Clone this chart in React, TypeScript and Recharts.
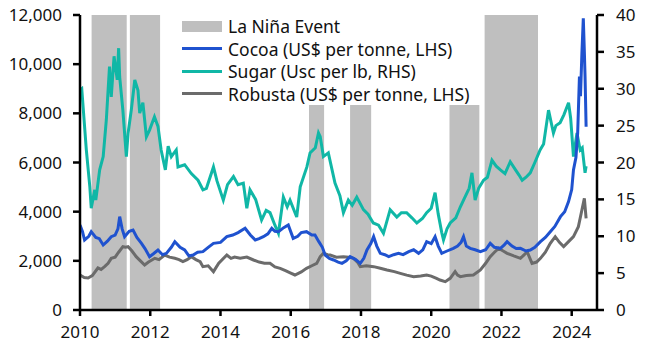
import React from "react";
import {
  LineChart,
  Line,
  XAxis,
  YAxis,
  ReferenceArea,
} from "recharts";

// La Niña episodes (decimal years)
const ninaStart = [2010.33, 2011.42, 2016.52, 2017.69, 2020.52, 2021.52];
const ninaEnd = [2011.33, 2012.28, 2016.95, 2018.29, 2021.37, 2023.04];

const yearTicks = [2010, 2012, 2014, 2016, 2018, 2020, 2022, 2024];
const leftTicks = [0, 2000, 4000, 6000, 8000, 10000, 12000];
const rightTicks = [0, 5, 10, 15, 20, 25, 30, 35, 40];

// Cocoa, US$ per tonne (LHS)
const cocoaT = [
  2010.0, 2010.07, 2010.13, 2010.25, 2010.32, 2010.45, 2010.55, 2010.66, 2010.78, 2010.89,
  2011.0, 2011.08, 2011.13, 2011.2, 2011.27, 2011.4, 2011.51, 2011.62, 2011.75, 2011.85,
  2011.98, 2012.1, 2012.22, 2012.35, 2012.46, 2012.6, 2012.7, 2012.85, 2012.98, 2013.1,
  2013.22, 2013.35, 2013.5, 2013.65, 2013.8, 2014.0, 2014.18, 2014.35, 2014.5, 2014.7,
  2014.85, 2014.99, 2015.1, 2015.22, 2015.35, 2015.46, 2015.55, 2015.65, 2015.8, 2015.93,
  2016.07, 2016.2, 2016.3, 2016.45, 2016.6, 2016.69, 2016.8, 2016.9, 2016.98, 2017.1,
  2017.22, 2017.35, 2017.46, 2017.58, 2017.69, 2017.85, 2017.98, 2018.08, 2018.17, 2018.28,
  2018.36, 2018.45, 2018.55, 2018.68, 2018.79, 2018.93, 2019.07, 2019.2, 2019.36, 2019.5,
  2019.64, 2019.76, 2019.87, 2020.0, 2020.11, 2020.2, 2020.3, 2020.45, 2020.63, 2020.75,
  2020.85, 2020.92, 2021.0, 2021.11, 2021.25, 2021.4, 2021.55, 2021.68, 2021.8, 2021.97,
  2022.08, 2022.16, 2022.3, 2022.42, 2022.54, 2022.7, 2022.82, 2022.95, 2023.11, 2023.25,
  2023.39, 2023.52, 2023.68, 2023.8, 2023.91, 2024.0, 2024.05, 2024.12, 2024.17, 2024.22,
  2024.25, 2024.29, 2024.33, 2024.36, 2024.38, 2024.41,
];
const cocoa = [
  3458, 3200, 2848, 3000, 3186, 2950, 2900, 2644, 2800, 2983,
  3050, 3300, 3797, 3300, 2983, 3200, 3254, 2950, 2712, 2500,
  2170, 2300, 2441, 2250, 2305, 2550, 2780, 2550, 2441, 2200,
  2237, 2350, 2373, 2550, 2712, 2750, 2983, 3050, 3150, 3322,
  3050, 2848, 2900, 2983, 3100, 3322, 3200, 3186, 3350, 3458,
  2915, 3000, 3150, 3186, 3050, 3051, 2780, 2550, 2237, 2100,
  2034, 1950, 1898, 2000, 2170, 2050, 1898, 2100, 2441, 2700,
  2983, 2600, 2305, 2250, 2170, 2250, 2305, 2250, 2373, 2450,
  2305, 2450, 2780, 2700, 2983, 2600, 2305, 2400, 2508, 2600,
  2750, 2983, 2600, 2508, 2450, 2373, 2450, 2712, 2550, 2508,
  2650, 2780, 2600, 2500, 2508, 2400, 2441, 2550, 2780, 2950,
  3186, 3400, 3797, 4000, 4407, 4900, 5696, 6200, 7200, 9492,
  8700, 10442, 11866, 10500, 9492, 7458,
];

// Sugar, US cents per lb (RHS)
const sugarT = [
  2010.0, 2010.05, 2010.18, 2010.28, 2010.32, 2010.42, 2010.45, 2010.56, 2010.66, 2010.75,
  2010.84, 2010.89, 2010.97, 2011.06, 2011.1, 2011.13, 2011.22, 2011.32, 2011.37, 2011.46,
  2011.56, 2011.65, 2011.7, 2011.79, 2011.89, 2011.98, 2012.12, 2012.22, 2012.31, 2012.43,
  2012.51, 2012.6, 2012.74, 2012.79, 2012.98, 2013.17, 2013.36, 2013.5, 2013.6, 2013.8,
  2013.9, 2014.08, 2014.2, 2014.37, 2014.5, 2014.65, 2014.75, 2014.84, 2015.0, 2015.17,
  2015.3, 2015.41, 2015.55, 2015.65, 2015.79, 2015.9, 2015.98, 2016.17, 2016.27, 2016.46,
  2016.55, 2016.7, 2016.79, 2016.84, 2016.93, 2017.07, 2017.26, 2017.4, 2017.5, 2017.64,
  2017.75, 2017.88, 2018.07, 2018.2, 2018.35, 2018.5, 2018.64, 2018.83, 2019.02, 2019.15,
  2019.3, 2019.45, 2019.59, 2019.75, 2019.87, 2020.0, 2020.11, 2020.2, 2020.3, 2020.35,
  2020.45, 2020.54, 2020.7, 2020.83, 2020.95, 2021.08, 2021.16, 2021.25, 2021.35, 2021.49,
  2021.6, 2021.73, 2021.85, 2021.97, 2022.1, 2022.25, 2022.4, 2022.5, 2022.59, 2022.7,
  2022.82, 2022.95, 2023.1, 2023.2, 2023.34, 2023.48, 2023.55, 2023.67, 2023.78, 2023.91,
  2023.97, 2024.05, 2024.15, 2024.24, 2024.3, 2024.38, 2024.41,
];
const sugar = [
  29.8, 30.0, 21.7, 16.7, 13.8, 16.3, 14.9, 19.0, 20.8, 25.8,
  33.0, 28.9, 34.4, 31.2, 35.5, 31.6, 27.1, 20.8, 24.0, 27.1,
  31.2, 29.8, 26.7, 28.1, 23.5, 24.4, 26.2, 24.9, 21.7, 19.0,
  22.2, 20.8, 21.7, 19.4, 19.7, 18.5, 17.6, 16.3, 16.5, 19.4,
  17.5, 14.9, 17.0, 18.1, 17.0, 17.2, 13.8, 16.3, 15.0, 12.2,
  13.5, 13.2, 11.5, 10.4, 15.3, 14.0, 14.9, 12.6, 16.7, 19.4,
  21.3, 22.0, 24.0, 23.5, 20.8, 21.3, 17.2, 15.5, 13.2, 14.9,
  14.2, 15.3, 13.6, 13.0, 11.8, 11.5, 10.4, 13.6, 12.6, 13.2,
  13.2, 12.5, 11.8, 12.4, 13.2, 13.8, 15.9, 13.0, 10.5, 9.5,
  11.0, 11.8, 12.5, 14.0, 15.2, 16.5, 18.6, 14.9, 16.5, 17.6,
  18.0, 20.3, 19.5, 19.0, 18.5, 20.1, 19.0, 18.3, 17.6, 18.0,
  18.6, 20.0, 21.7, 22.5, 27.1, 24.0, 25.0, 25.4, 26.5, 28.1,
  26.0, 20.8, 24.0, 21.7, 22.0, 18.6, 19.5,
];

// Robusta, US$ per tonne (LHS)
const robustaT = [
  2010.0, 2010.12, 2010.23, 2010.35, 2010.51, 2010.6, 2010.7, 2010.8, 2010.89, 2011.0,
  2011.1, 2011.22, 2011.3, 2011.37, 2011.48, 2011.6, 2011.72, 2011.84, 2011.95, 2012.13,
  2012.25, 2012.41, 2012.55, 2012.7, 2012.82, 2012.93, 2013.05, 2013.17, 2013.3, 2013.42,
  2013.5, 2013.65, 2013.8, 2013.95, 2014.18, 2014.3, 2014.4, 2014.56, 2014.75, 2014.94,
  2015.1, 2015.25, 2015.41, 2015.55, 2015.7, 2015.85, 2016.0, 2016.12, 2016.3, 2016.45,
  2016.6, 2016.74, 2016.84, 2016.93, 2017.05, 2017.12, 2017.3, 2017.5, 2017.65, 2017.79,
  2017.9, 2017.98, 2018.15, 2018.36, 2018.55, 2018.74, 2018.95, 2019.12, 2019.3, 2019.5,
  2019.7, 2019.87, 2020.0, 2020.15, 2020.25, 2020.4, 2020.54, 2020.68, 2020.75, 2020.83,
  2021.0, 2021.2, 2021.4, 2021.55, 2021.68, 2021.8, 2021.92, 2022.05, 2022.16, 2022.35,
  2022.54, 2022.65, 2022.73, 2022.87, 2023.0, 2023.11, 2023.25, 2023.39, 2023.53, 2023.65,
  2023.77, 2023.91, 2024.05, 2024.19, 2024.29, 2024.36, 2024.41,
];
const robusta = [
  1424, 1320, 1302, 1400, 1709, 1650, 1763, 1900, 2102, 2150,
  2350, 2576, 2550, 2576, 2400, 2170, 2000, 1831, 1950, 2102,
  2050, 2237, 2150, 2102, 2050, 1966, 2050, 2170, 2050, 1966,
  1763, 1800, 1560, 1900, 2237, 2100, 2150, 2102, 2150, 2034,
  1950, 1900, 1898, 1750, 1695, 1600, 1500, 1424, 1550, 1695,
  1800, 1898, 2170, 2305, 2250, 2237, 2150, 2170, 2150, 2102,
  1950, 1763, 1800, 1763, 1700, 1627, 1560, 1492, 1420, 1356,
  1380, 1424, 1380, 1288, 1220, 1153, 1288, 1560, 1420, 1356,
  1400, 1424, 1627, 1900, 2170, 2350, 2508, 2400, 2305, 2200,
  2102, 2250, 2373, 1898, 1950, 2102, 2350, 2712, 2983, 2750,
  2576, 2780, 2983, 3390, 4068, 4543, 3729,
];

const zip = (ts: number[], vs: number[]) => ts.map((t, i) => ({ t, v: vs[i] }));

const COCOA = "#1f52cf";
const SUGAR = "#10b7a6";
const ROBUSTA = "#6b6b6b";
const SHADE = "#bfbfbf";
const FONT = "'Noto Sans', sans-serif";

const tickStyle = { fill: "#111", fontSize: 17, fontFamily: FONT };

const legendRows = [
  { label: "La Niña Event", color: SHADE, box: true },
  { label: "Cocoa (US$ per tonne, LHS)", color: COCOA, box: false },
  { label: "Sugar (Usc per lb, RHS)", color: SUGAR, box: false },
  { label: "Robusta (US$ per tonne, LHS)", color: ROBUSTA, box: false },
];

export default function App() {
  return (
    <div
      style={{
        position: "fixed",
        left: 0,
        top: 0,
        width: 650,
        height: 357,
        background: "#fff",
      }}
    >
      <LineChart
        width={650}
        height={357}
        margin={{ top: 15, right: 0, bottom: 0, left: 0 }}
      >
        <XAxis
          type="number"
          dataKey="t"
          domain={[2010, 2024.72]}
          ticks={yearTicks}
          allowDataOverflow
          height={47}
          tickSize={6}
          tickMargin={10}
          tick={tickStyle}
          axisLine={{ stroke: "#000", strokeWidth: 2.5 }}
          tickLine={{ stroke: "#000", strokeWidth: 2.5 }}
        />
        <YAxis
          yAxisId="left"
          domain={[0, 12000]}
          ticks={leftTicks}
          width={80}
          tickSize={7}
          tickMargin={11}
          tick={tickStyle}
          tickFormatter={(v: number) => v.toLocaleString("en-US")}
          axisLine={{ stroke: "#000", strokeWidth: 2.5 }}
          tickLine={{ stroke: "#000", strokeWidth: 2.5 }}
        />
        <YAxis
          yAxisId="right"
          orientation="right"
          domain={[0, 40]}
          ticks={rightTicks}
          width={53}
          tickSize={7}
          tickMargin={12}
          tick={tickStyle}
          axisLine={{ stroke: "#000", strokeWidth: 2.5 }}
          tickLine={{ stroke: "#000", strokeWidth: 2.5 }}
        />
        {ninaStart.map((s, i) => (
          <ReferenceArea
            key={i}
            yAxisId="left"
            x1={s}
            x2={ninaEnd[i]}
            y1={0}
            y2={12000}
            fill={SHADE}
            fillOpacity={1}
            stroke="none"
          />
        ))}
        <Line
          yAxisId="right"
          data={zip(sugarT, sugar)}
          dataKey="v"
          stroke={SUGAR}
          strokeWidth={3}
          dot={false}
          isAnimationActive={false}
        />
        <Line
          yAxisId="left"
          data={zip(robustaT, robusta)}
          dataKey="v"
          stroke={ROBUSTA}
          strokeWidth={3}
          dot={false}
          isAnimationActive={false}
        />
        <Line
          yAxisId="left"
          data={zip(cocoaT, cocoa)}
          dataKey="v"
          stroke={COCOA}
          strokeWidth={3}
          dot={false}
          isAnimationActive={false}
        />
      </LineChart>
      <div
        style={{
          position: "absolute",
          left: 177,
          top: 15,
          width: 304,
          height: 90,
          background: "#fff",
          fontFamily: FONT,
          fontSize: 17.5,
          color: "#111",
        }}
      >
        {legendRows.map((r, i) => (
          <div
            key={r.label}
            style={{
              position: "absolute",
              left: 5,
              top: i * 22.5,
              height: 22,
              display: "flex",
              alignItems: "center",
              whiteSpace: "nowrap",
            }}
          >
            <span
              style={{
                display: "inline-block",
                width: 40,
                height: r.box ? 11 : 3,
                background: r.color,
                marginRight: 6,
              }}
            />
            <span>{r.label}</span>
          </div>
        ))}
      </div>
    </div>
  );
}
